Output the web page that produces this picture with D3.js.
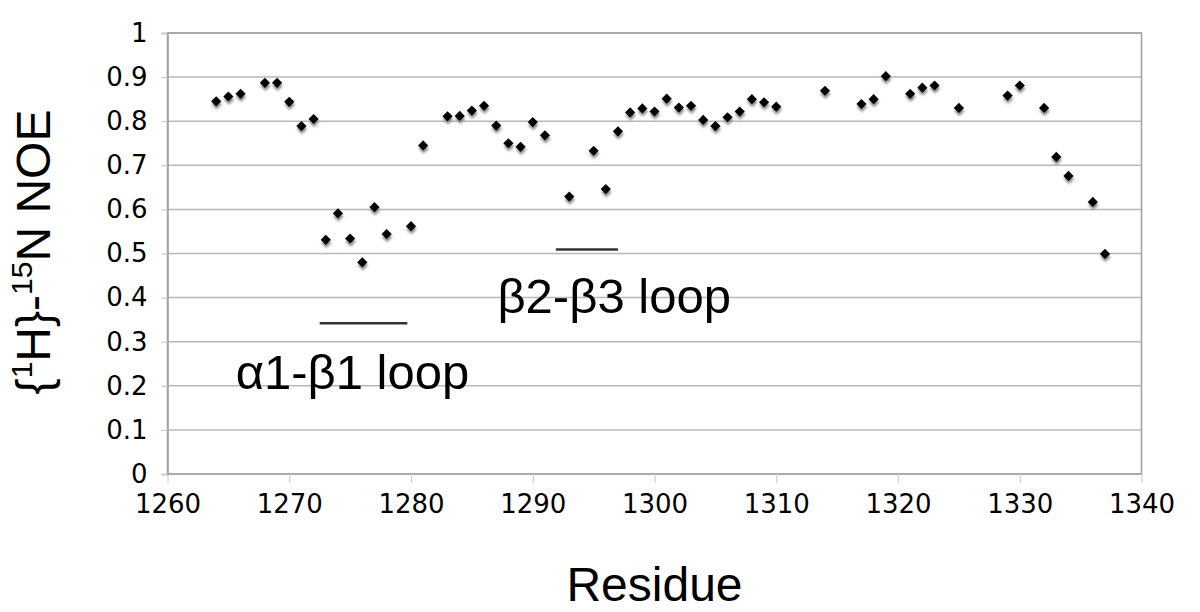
<!DOCTYPE html>
<head>
    <meta charset="utf-8">
    <title>NOE</title>
    <script src="https://d3js.org/d3.v7.min.js"></script>
    <style>
        body { margin: 0; background: #fff; }
        .tick text { font-family: "DejaVu Sans", Verdana, sans-serif; font-size: 26px; fill: #000; }
        .title { font-family: "Liberation Sans", Arial, sans-serif; fill: #000; }
    </style>
</head>
<body>
    <div id="container"></div>
    <script>
        //------------------------DATA------------------------//
        var residues = [1264, 1265, 1266, 1268, 1269, 1270, 1271, 1272, 1273, 1274, 1275, 1276, 1277, 1278, 1280, 1281,
            1283, 1284, 1285, 1286, 1287, 1288, 1289, 1290, 1291, 1293, 1295, 1296, 1297, 1298, 1299, 1300,
            1301, 1302, 1303, 1304, 1305, 1306, 1307, 1308, 1309, 1310, 1314, 1317, 1318, 1319, 1321, 1322,
            1323, 1325, 1329, 1330, 1332, 1333, 1334, 1336, 1337];
        var noe = [0.845, 0.856, 0.862, 0.887, 0.887, 0.844, 0.789, 0.805, 0.531, 0.591, 0.534, 0.480, 0.605, 0.544, 0.562, 0.745,
            0.811, 0.812, 0.824, 0.835, 0.790, 0.750, 0.742, 0.798, 0.768, 0.629, 0.733, 0.646, 0.777, 0.820, 0.829, 0.822,
            0.851, 0.831, 0.835, 0.803, 0.789, 0.809, 0.822, 0.850, 0.843, 0.833, 0.869, 0.839, 0.850, 0.902, 0.862, 0.876,
            0.881, 0.830, 0.858, 0.881, 0.830, 0.719, 0.676, 0.617, 0.499];
        var xTicks = [1260, 1270, 1280, 1290, 1300, 1310, 1320, 1330, 1340];
        var yTicks = [0, 0.1, 0.2, 0.3, 0.4, 0.5, 0.6, 0.7, 0.8, 0.9, 1];

        // loop annotations: bar from/to residue at a NOE level, label anchored at residue/NOE
        var loopNames = ["\u03b11-\u03b21 loop", "\u03b22-\u03b23 loop"];
        var loopFrom = [1272.5, 1291.9];
        var loopTo = [1279.7, 1297.0];
        var loopLevel = [0.342, 0.509];
        var labelX = [1265.6, 1287.1];
        var labelY = [0.193, 0.365];

        var theData = residues.map(function (r, i) { return { residue: r, noe: noe[i] }; });

        //------------------------SVG------------------------//
        var W = 1200, H = 612;
        var margin = { top: 33, right: 58.5, bottom: 138, left: 167.5 };
        var width = W - margin.left - margin.right,
            height = H - margin.top - margin.bottom;

        var svg = d3.select("#container").append("svg")
            .attr("width", W).attr("height", H);

        var defs = svg.append("defs");
        defs.append("filter").attr("id", "shadow")
            .attr("x", "-50%").attr("y", "-50%").attr("width", "200%").attr("height", "200%")
            .append("feGaussianBlur").attr("stdDeviation", 1.3);

        var g = svg.append("g")
            .attr("transform", "translate(" + margin.left + "," + margin.top + ")");

        var xScale = d3.scaleLinear().domain([1260, 1340]).range([0, width]);
        var yScale = d3.scaleLinear().domain([0, 1]).range([height, 0]);

        //------------------------GRID------------------------//
        g.append("g")
            .selectAll("line")
            .data(yTicks)
            .join("line")
            .attr("x1", 0).attr("x2", width)
            .attr("y1", d => yScale(d)).attr("y2", d => yScale(d))
            .attr("stroke", "#b8b8b8")
            .attr("stroke-width", 1.5);

        g.append("rect")
            .attr("width", width).attr("height", height)
            .attr("fill", "none")
            .attr("stroke", "#a0a0a0")
            .attr("stroke-width", 1.5);

        //------------------------AXES------------------------//
        var xaxis = d3.axisBottom(xScale).tickValues(xTicks).tickSize(9).tickPadding(12)
            .tickFormat(d3.format("d"));
        var yaxis = d3.axisLeft(yScale).tickValues(yTicks).tickSize(6).tickPadding(14)
            .tickFormat(d => d3.format("")(+d.toFixed(1)));

        g.append("g")
            .attr("class", "x axis")
            .attr("transform", "translate(0," + height + ")")
            .call(xaxis)
            .call(a => a.select(".domain").remove())
            .call(a => a.selectAll(".tick line").attr("stroke", "#d0d0d0").attr("stroke-width", 1.2));

        g.append("g")
            .attr("class", "y axis")
            .call(yaxis)
            .call(a => a.select(".domain").attr("stroke", "#a0a0a0").attr("stroke-width", 1.5))
            .call(a => a.selectAll(".tick line").attr("stroke", "#c8c8c8").attr("stroke-width", 1.2));

        //------------------------POINTS------------------------//
        var diamond = d3.symbol().type(d3.symbolSquare).size(52);

        g.append("g").selectAll("path")
            .data(theData)
            .join("path")
            .attr("d", diamond)
            .attr("fill", "#8a8a8a")
            .attr("filter", "url(#shadow)")
            .attr("transform", d => "translate(" + (xScale(d.residue) + 0.5) + "," + (yScale(d.noe) + 3) + ") rotate(45)");

        g.append("g").selectAll("path")
            .data(theData)
            .join("path")
            .attr("d", diamond)
            .attr("fill", "#000")
            .attr("transform", d => "translate(" + xScale(d.residue) + "," + yScale(d.noe) + ") rotate(45)");

        //------------------------ANNOTATIONS------------------------//
        g.append("g").selectAll("line")
            .data(loopNames)
            .join("line")
            .attr("x1", (d, i) => xScale(loopFrom[i]))
            .attr("x2", (d, i) => xScale(loopTo[i]))
            .attr("y1", (d, i) => yScale(loopLevel[i]))
            .attr("y2", (d, i) => yScale(loopLevel[i]))
            .attr("stroke", "#333")
            .attr("stroke-width", 2.5);

        g.append("g").selectAll("text")
            .data(loopNames)
            .join("text")
            .attr("class", "title")
            .attr("x", (d, i) => xScale(labelX[i]))
            .attr("y", (d, i) => yScale(labelY[i]))
            .style("font-size", "49px")
            .text(d => d);

        //------------------------TITLES------------------------//
        svg.append("text")
            .attr("class", "title")
            .attr("x", margin.left + width / 2)
            .attr("y", 601)
            .attr("text-anchor", "middle")
            .style("font-size", "48px")
            .text("Residue");

        var yt = svg.append("text")
            .attr("class", "title")
            .attr("transform", "translate(50," + 252 + ") rotate(-90)")
            .attr("text-anchor", "middle")
            .style("font-size", "48px");
        yt.append("tspan").text("{");
        yt.append("tspan").attr("dy", -18).style("font-size", "30px").text("1");
        yt.append("tspan").attr("dy", 18).text("H}-");
        yt.append("tspan").attr("dy", -18).style("font-size", "30px").text("15");
        yt.append("tspan").attr("dy", 18).text("N NOE");
    </script>
</body>
